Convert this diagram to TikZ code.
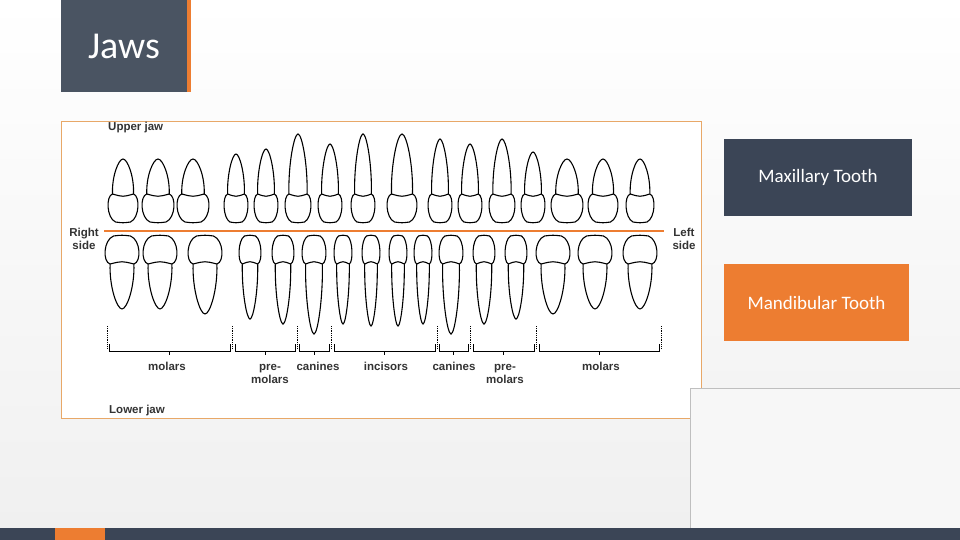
\documentclass[tikz,border=0pt]{standalone}
\usepackage{fontspec}
\setmainfont{Carlito}
\newfontfamily\chartfont{Liberation Sans}
\definecolor{slate}{HTML}{3B4556}
\definecolor{title}{HTML}{4A5462}
\definecolor{orng}{HTML}{ED7D31}
\definecolor{frame}{HTML}{E8A868}
\newcommand\tth[5]{%
\begin{scope}[shift={(#1,#2)},yscale=#5]
\draw[toothline] ({-0.7*#3},-28) .. controls ({-0.75*#3},{-28-0.5*#4}) and ({-0.3*#3},{-28-#4}) .. (0,{-28-#4})
 .. controls ({0.3*#3},{-28-#4}) and ({0.75*#3},{-28-0.5*#4}) .. ({0.7*#3},-28)
 .. controls ({1.15*#3},-26) and ({1.1*#3},-4) .. ({0.5*#3},0)
 .. controls (0,1) .. ({-0.5*#3},0)
 .. controls ({-1.1*#3},-4) and ({-1.15*#3},-26) .. cycle;
\draw[toothline] ({-0.7*#3},-28) .. controls (0,-25) .. ({0.7*#3},-28);
\end{scope}}
\begin{document}
\begin{tikzpicture}[x=1pt,y=-1pt,
 toothline/.style={line width=1.1pt,fill=white,draw=black},
 lbl/.style={font=\chartfont\bfseries\fontsize{11.5}{12.5}\selectfont,text=black!80,align=center,inner sep=0},
 dots/.style={densely dotted,line width=0.8pt},
 brace/.style={line width=0.8pt},
 box/.style={text=white,minimum height=77pt,inner sep=0,font=\fontsize{19}{22}\selectfont}]
\useasboundingbox (0,0) rectangle (960,540);
\fill[top color=white,bottom color=black!6] (0,0) rectangle (960,540);
% title
\fill[title] (61,0) rectangle (187,92);
\fill[orng] (187,0) rectangle (191,92);
\node[text=white,font=\fontsize{38}{42}\selectfont] (ttl) at (124,46) {Jaws};
% chart frame
\draw[frame,fill=white,line width=0.8pt] (61,121) rectangle (701,418);
\node[lbl,anchor=west] (uj) at (108,128) {Upper jaw};
\node[lbl,anchor=west] (lj) at (109,411) {Lower jaw};
\node[lbl] (rs) at (84,239) {Right\\side};
\node[lbl] (ls) at (684,239) {Left\\side};
% upper teeth
\foreach \x/\w/\l in {123/15/35,158/16/35,193/16/35,236/12/40,266/12/45,298/13/60,330/12/50,363/12/60,402/15/60,440/12/55,470/12/50,502/13/55,533/12/42,567/16/35,603/15/35,640/14/35}
 {\tth{\x}{222}{\w}{\l}{1}}
% lower teeth
\foreach \x/\w/\l in {122/17/45,160/17/45,205/17/50,250/11/55,283/11/60,314/12/70,343/9/60,371/9/62,398/9/62,423/9/60,451/12/70,484/11/60,516/11/55,553/17/50,595/17/45,640/17/45}
 {\tth{\x}{236}{\w}{\l}{-1}}
\draw[orng,line width=2.5pt] (104,231) -- (664,231);
% brackets
\foreach \x in {107,232,297,331,437,470,536,661} \draw[dots] (\x,326) -- (\x,348);
\foreach \a/\b in {109/230,235/295,299/329,334/435,439/468,473/534,539/659}
 {\draw[brace] (\a,344) -- (\a,351) -- (\b,351) -- (\b,344);
  \draw[brace] ({(\a+\b)/2},351) -- ({(\a+\b)/2},355);}
\node[lbl] (m1) at (167,366) {molars};
\node[lbl] (p1) at (270,374) {pre-\\molars};
\node[lbl] (c1) at (318,366) {canines};
\node[lbl] (in) at (386,366) {incisors};
\node[lbl] (c2) at (454,366) {canines};
\node[lbl] (p2) at (505,374) {pre-\\molars};
\node[lbl] (m2) at (601,366) {molars};
% right boxes
\node[box,fill=slate,minimum width=188pt] (max) at (818,177.5) {Maxillary Tooth};
\node[box,fill=orng,minimum width=185pt] (man) at (816.5,302.5) {Mandibular Tooth};
% bottom decoration
\draw[black!25,fill=black!3,line width=1pt] (690,388) rectangle (962,542);
\fill[slate] (0,528) rectangle (960,540);
\fill[orng] (55,528) rectangle (105,540);
\end{tikzpicture}
\end{document}
